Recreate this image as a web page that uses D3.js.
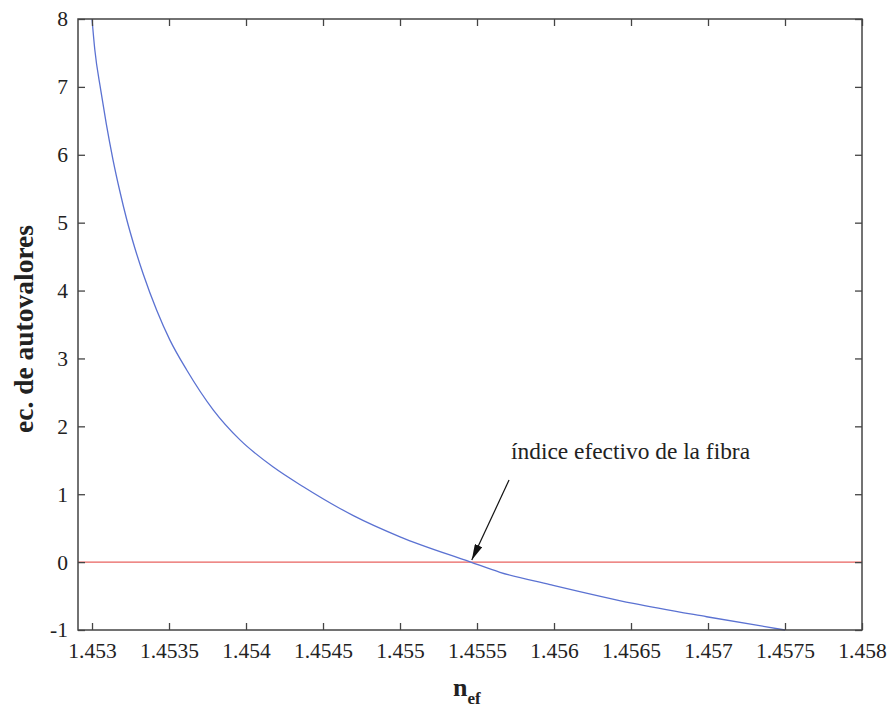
<!DOCTYPE html>
<html>
<head>
<meta charset="utf-8">
<script src="https://cdn.jsdelivr.net/npm/d3@7"></script>
<style>
  body { margin: 0; background: #fff; }
  text { font-family: "Liberation Serif", "Times New Roman", serif; fill: #222; }
</style>
</head>
<body>
<svg id="chart" width="889" height="708"></svg>
<script>
// values
const nef = [1.45300, 1.453018, 1.453057, 1.453093, 1.453136, 1.45318, 1.453225, 1.453279,
  1.453333, 1.45342, 1.453506, 1.453615, 1.453788, 1.453961, 1.454177, 1.454372,
  1.45461, 1.454697, 1.455, 1.455455, 1.455649, 1.455974, 1.456515, 1.456991, 1.4575];
const eig = [8.0, 7.55, 6.95, 6.45, 5.93, 5.47, 5.05, 4.62,
  4.24, 3.71, 3.27, 2.83, 2.24, 1.80, 1.40, 1.11,
  0.79, 0.685, 0.373, 0.004, -0.15, -0.33, -0.608, -0.805, -1.0];
const xTicks = [1.453, 1.4535, 1.454, 1.4545, 1.455, 1.4555, 1.456, 1.4565, 1.457, 1.4575, 1.458];
const yTicks = [-1, 0, 1, 2, 3, 4, 5, 6, 7, 8];
const xDomain = [1.452909, 1.458];
const yDomain = [-1, 8];
// annotation: tail, tip, label
const arrowFrom = [1.455708, 1.208];
const arrowTo = [1.455466, 0.03];
const labelAt = [1.455721, 1.52];
const labelText = "índice efectivo de la fibra";

const serif = '"Liberation Serif", "Times New Roman", serif';
const svg = d3.select("#chart");
const margin = { top: 19, right: 27, bottom: 78, left: 78 };
const width = 889 - margin.left - margin.right;
const height = 708 - margin.top - margin.bottom;

const g = svg.append("g").attr("transform", `translate(${margin.left},${margin.top})`);

const x = d3.scaleLinear().domain(xDomain).range([0, width]);
const y = d3.scaleLinear().domain(yDomain).range([height, 0]);

const axisColor = "#444";
const tickLen = 7;

// zero line
g.append("line")
    .attr("x1", x(xDomain[0])).attr("x2", x(xDomain[1]))
    .attr("y1", y(0)).attr("y2", y(0))
    .attr("stroke", "#e8625f").attr("stroke-width", 1.3);

// curve
const line = d3.line()
    .x((d, i) => x(nef[i]))
    .y(d => y(d))
    .curve(d3.curveMonotoneX);

g.append("path")
    .datum(eig)
    .attr("fill", "none")
    .attr("stroke", "#5b72d2")
    .attr("stroke-width", 1.3)
    .attr("d", line);

// axes, ticks inward on all four sides
function styleAxis(sel) {
  sel.attr("font-family", serif).attr("font-size", 21.5);
  sel.select(".domain").remove();
  sel.selectAll(".tick line").attr("stroke", axisColor).attr("stroke-width", 1.3);
  sel.selectAll(".tick text").attr("fill", "#222").style("font-family", serif);
}

g.append("g").attr("transform", `translate(0,${height})`)
    .call(d3.axisBottom(x).tickValues(xTicks).tickSize(-tickLen).tickPadding(13)
      .tickFormat(d => String(+d.toFixed(4))))
    .call(styleAxis);

g.append("g")
    .call(d3.axisTop(x).tickValues(xTicks).tickSize(-tickLen).tickFormat(""))
    .call(styleAxis);

g.append("g")
    .call(d3.axisLeft(y).tickValues(yTicks).tickSize(-tickLen).tickPadding(10)
      .tickFormat(d => String(d)))
    .call(styleAxis);

g.append("g").attr("transform", `translate(${width},0)`)
    .call(d3.axisRight(y).tickValues(yTicks).tickSize(-tickLen).tickFormat(""))
    .call(styleAxis);

// box
g.append("rect")
    .attr("width", width).attr("height", height)
    .attr("fill", "none").attr("stroke", axisColor).attr("stroke-width", 1.5);

// annotation arrow
svg.append("defs").append("marker")
    .attr("id", "head")
    .attr("viewBox", "0 0 16 8")
    .attr("refX", 16).attr("refY", 4)
    .attr("markerWidth", 16).attr("markerHeight", 8)
    .attr("markerUnits", "userSpaceOnUse")
    .attr("orient", "auto")
  .append("path")
    .attr("d", "M0,0 L16,4 L0,8 Z")
    .attr("fill", "#111");

g.append("line")
    .attr("x1", x(arrowFrom[0])).attr("y1", y(arrowFrom[1]))
    .attr("x2", x(arrowTo[0])).attr("y2", y(arrowTo[1]))
    .attr("stroke", "#111").attr("stroke-width", 1.2)
    .attr("marker-end", "url(#head)");

g.append("text")
    .attr("x", x(labelAt[0])).attr("y", y(labelAt[1]))
    .style("font-size", "23.4px")
    .text(labelText);

// axis labels
svg.append("text")
    .attr("transform", "translate(33,329) rotate(-90)")
    .attr("text-anchor", "middle")
    .style("font-size", "27.5px")
    .style("font-weight", "bold")
    .text("ec. de autovalores");

const xl = svg.append("text")
    .attr("x", 453)
    .attr("y", 696)
    .style("font-size", "26px")
    .style("font-weight", "bold");
xl.append("tspan").text("n");
xl.append("tspan").attr("dy", 8).style("font-size", "17px").text("ef");
</script>
</body>
</html>
